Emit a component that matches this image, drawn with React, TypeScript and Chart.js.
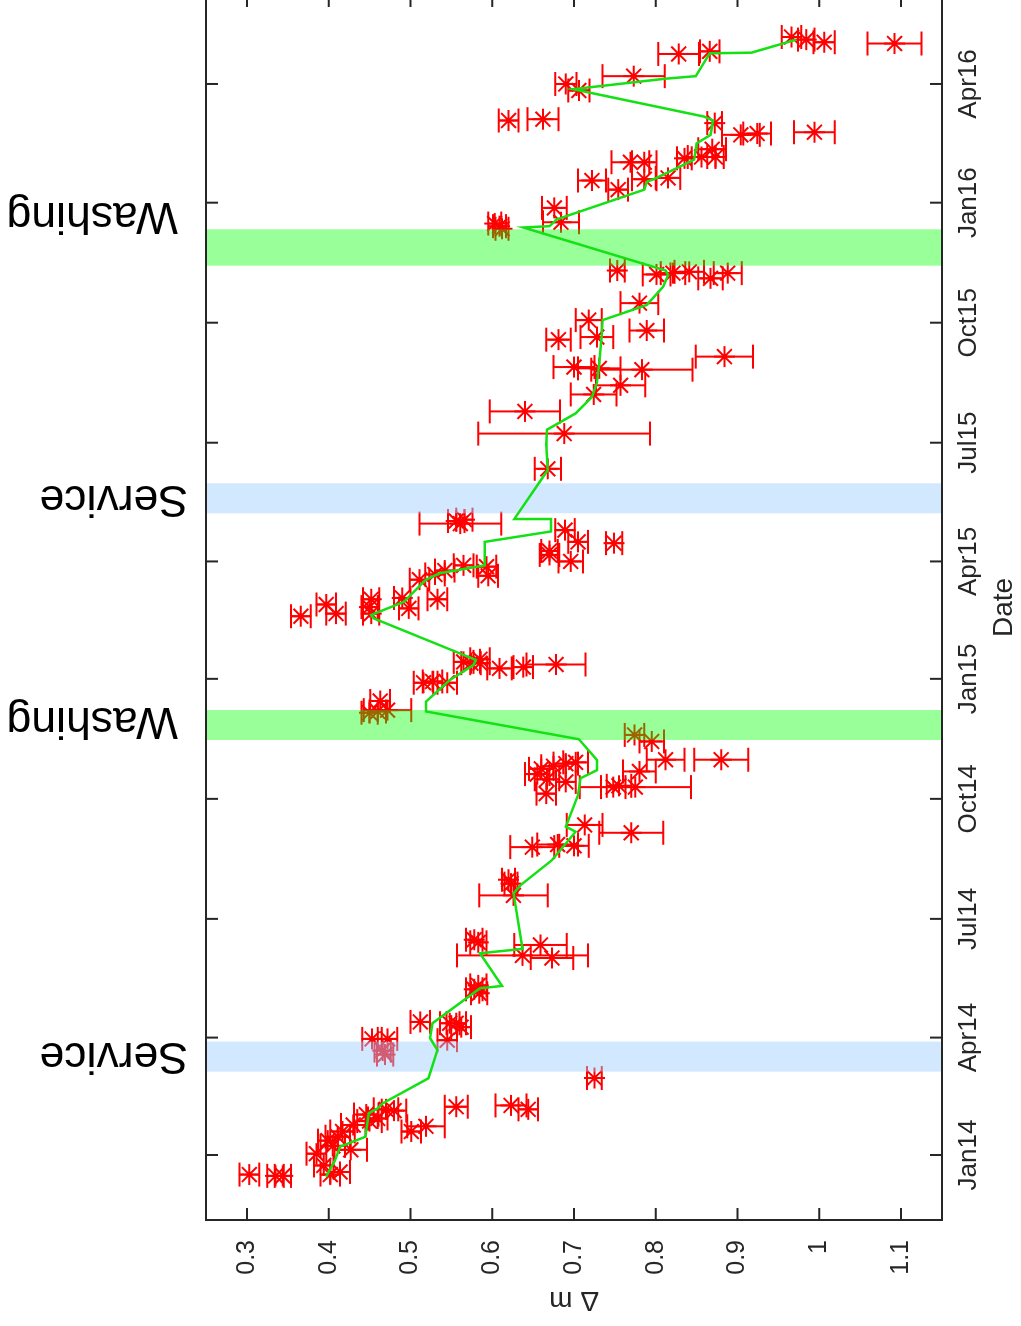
import React, { useEffect, useRef } from "react";
import { Chart, registerables } from "chart.js";

Chart.register(...registerables);

// ---------------- data ----------------
// days counted from 1 Jan 2014
const dateTickDays = [0, 90, 181, 273, 365, 455, 546, 638, 730, 821];
const dateTickLabels = ["Jan14", "Apr14", "Jul14", "Oct14", "Jan15", "Apr15", "Jul15", "Oct15", "Jan16", "Apr16"];
const dmTickValues = [0.3, 0.4, 0.5, 0.6, 0.7, 0.8, 0.9, 1.0, 1.1];

const measDays = [
  -15, -16, -16, -15, -13, -8, 1, 4, 11, 14, 18, 18, 22, 28, 31, 34, 37, 38, 35, 7, 23, 26, 35,
  59, 77, 80, 89, 89, 88, 101, 102, 101, 98, 124,
  130, 127, 163, 165, 161, 153, 151, 199, 208, 211,
  236, 238, 237, 247, 253, 277, 282, 282, 283, 286, 288, 292, 294,
  296, 298, 300, 301, 303, 303, 317, 322, 341, 340, 339, 348, 362, 363, 362, 373, 374, 376, 377, 377,
  380, 378, 413, 415, 422, 426, 420, 415, 427, 419, 426, 441, 445, 448, 452, 451, 444, 455, 460,
  463, 469, 470, 479, 484, 486, 487, 526,
  553, 570, 583, 590, 602, 603, 604, 612, 625, 627, 632,
  640, 653, 672, 675, 676, 677, 676, 678, 714, 712, 710,
  715, 726, 740, 747, 748, 749, 761, 761, 764, 765, 765, 771, 782, 783, 784, 791, 793, 794,
  816, 821, 827, 844, 846, 857, 855, 853, 852,
];

const measDm = [
  0.303, 0.335, 0.344, 0.402, 0.414, 0.394, 0.385, 0.427, 0.399, 0.411, 0.417, 0.501, 0.519, 0.46, 0.446, 0.48, 0.556, 0.623, 0.644, 0.405, 0.43, 0.45, 0.47,
  0.725, 0.469, 0.466, 0.453, 0.472, 0.545, 0.548, 0.512, 0.556, 0.562, 0.584,
  0.583, 0.578, 0.583, 0.578, 0.659, 0.637, 0.673, 0.626, 0.623, 0.62,
  0.649, 0.68, 0.7, 0.77, 0.713, 0.666, 0.748, 0.775, 0.755, 0.69, 0.667, 0.655, 0.78,
  0.66, 0.675, 0.69, 0.702, 0.812, 0.88, 0.795, 0.774, 0.472, 0.46, 0.45, 0.463, 0.516, 0.527, 0.545, 0.609, 0.638, 0.678, 0.574, 0.585,
  0.585, 0.565, 0.366, 0.409, 0.397, 0.452, 0.45, 0.452, 0.49, 0.498, 0.533, 0.511, 0.53, 0.542, 0.565, 0.593, 0.595, 0.696, 0.67,
  0.67, 0.749, 0.705, 0.689, 0.561, 0.556, 0.566, 0.668,
  0.688, 0.64, 0.724, 0.757, 0.783, 0.731, 0.7, 0.884, 0.681, 0.728, 0.789,
  0.718, 0.78, 0.867, 0.801, 0.821, 0.841, 0.888, 0.753, 0.603, 0.609, 0.612,
  0.684, 0.676, 0.754, 0.722, 0.786, 0.815, 0.769, 0.786, 0.835, 0.856, 0.873, 0.869, 0.904, 0.924, 0.994, 0.872, 0.62, 0.662,
  0.706, 0.69, 0.773, 0.828, 0.866, 0.966, 0.984, 1.006, 1.092,
];

const measErr = [
  0.012, 0.01, 0.01, 0.012, 0.012, 0.012, 0.012, 0.02, 0.012, 0.015, 0.015, 0.012, 0.023, 0.012, 0.015, 0.015, 0.014, 0.019, 0.012, 0.015, 0.015, 0.015, 0.015,
  0.009, 0.01, 0.01, 0.012, 0.012, 0.012, 0.012, 0.012, 0.012, 0.012, 0.01,
  0.01, 0.01, 0.01, 0.01, 0.032, 0.08, 0.026, 0.042, 0.008, 0.008,
  0.027, 0.025, 0.018, 0.039, 0.022, 0.012, 0.015, 0.068, 0.015, 0.012, 0.015, 0.015, 0.02,
  0.015, 0.015, 0.015, 0.015, 0.023, 0.033, 0.015, 0.012, 0.029, 0.01, 0.01, 0.012, 0.012, 0.012, 0.012, 0.015, 0.012, 0.036, 0.012, 0.012,
  0.012, 0.012, 0.012, 0.012, 0.012, 0.01, 0.01, 0.01, 0.01, 0.012, 0.012, 0.012, 0.012, 0.012, 0.012, 0.012, 0.012, 0.015, 0.012,
  0.01, 0.01, 0.012, 0.012, 0.05, 0.01, 0.01, 0.016,
  0.105, 0.043, 0.028, 0.03, 0.062, 0.026, 0.025, 0.035, 0.015, 0.02, 0.021,
  0.016, 0.023, 0.015, 0.017, 0.015, 0.018, 0.017, 0.009, 0.008, 0.008, 0.008,
  0.022, 0.015, 0.012, 0.017, 0.015, 0.015, 0.023, 0.015, 0.009, 0.017, 0.01, 0.017, 0.023, 0.017, 0.025, 0.009, 0.012, 0.019,
  0.013, 0.013, 0.038, 0.025, 0.012, 0.012, 0.01, 0.013, 0.033,
];

const trendDays = [
  -16.6, -3.8, 6.4, 14, 32, 35.8, 39.6, 58.8, 80.5, 89.5, 101, 122.7, 127.8, 129.6, 154.6, 158, 200.6, 207, 226,
  247.8, 251.7, 276, 288.8, 295, 302.8, 318.7, 340, 347.5, 364, 375.6, 379.5, 411.4, 414, 424, 441, 446, 452,
  470, 478, 486.8, 487.5, 518.7, 525, 544.6, 556, 568.5, 581, 591.5, 607, 628.7, 640, 651.6, 665.6, 674.6, 678,
  711, 712, 715.4, 717, 740, 746, 749, 763, 775.5, 782, 793, 796, 817, 825, 827, 844.5, 845, 855,
];
const trendDm = [
  0.397, 0.408, 0.414, 0.445, 0.449, 0.46, 0.466, 0.522, 0.533, 0.524, 0.527, 0.574, 0.585, 0.612, 0.585, 0.637, 0.626, 0.635, 0.673,
  0.702, 0.69, 0.705, 0.708, 0.728, 0.728, 0.706, 0.519, 0.519, 0.548, 0.577, 0.58, 0.455, 0.452, 0.492, 0.519, 0.536, 0.591,
  0.591, 0.672, 0.672, 0.627, 0.661, 0.668, 0.666, 0.667, 0.702, 0.722, 0.728, 0.731, 0.734, 0.735, 0.789, 0.809, 0.815, 0.812,
  0.638, 0.67, 0.676, 0.678, 0.786, 0.789, 0.801, 0.847, 0.85, 0.867, 0.87, 0.859, 0.699, 0.811, 0.849, 0.866, 0.917, 0.972,
];

const eventLabels = ["Service", "Washing", "Service", "Washing"];
const eventStart = [63.9, 318.1, 491.9, 681.7];
const eventEnd = [86.9, 341.1, 514.9, 709.6];
const eventTextDay = [76.7, 333.5, 503.6, 720.6];

// ---------------- layout / style ----------------
const FONT = "'Liberation Sans', Arial, Helvetica, sans-serif";
const PAGE_W = 1021;
const PAGE_H = 1326;
const CANVAS_W = 1350;
const CANVAS_H = 1021;
const AREA_LEFT = 106;
const AREA_TOP = 206;
const AREA_RIGHT = 1331;
const AREA_BOTTOM = 942;
const AXIS_COLOR = "#262626";
const RED = "#ff0000";
const GREEN_LINE = "rgb(20, 225, 20)";
const SERVICE_FILL = "rgba(153, 204, 255, 0.45)";
const WASHING_FILL = "rgba(0, 255, 0, 0.4)";
const CAP = 12;
const TICK_LEN = 12;

const decorPlugin = {
  id: "decor",
  beforeDatasetDraw(chart: any, args: any) {
    if (args.index !== 0) return;
    const { ctx, chartArea } = chart;
    const xs = chart.scales.x;
    const ys = chart.scales.y;
    ctx.save();
    ctx.beginPath();
    ctx.rect(chartArea.left, chartArea.top, chartArea.right - chartArea.left, chartArea.bottom - chartArea.top);
    ctx.clip();
    ctx.strokeStyle = RED;
    ctx.lineWidth = 2;
    ctx.beginPath();
    for (let i = 0; i < measDays.length; i++) {
      const px = xs.getPixelForValue(measDays[i]);
      const y1 = ys.getPixelForValue(measDm[i] - measErr[i]);
      const y2 = ys.getPixelForValue(measDm[i] + measErr[i]);
      ctx.moveTo(px, y1);
      ctx.lineTo(px, y2);
      ctx.moveTo(px - CAP, y1);
      ctx.lineTo(px + CAP, y1);
      ctx.moveTo(px - CAP, y2);
      ctx.lineTo(px + CAP, y2);
    }
    ctx.stroke();
    ctx.restore();
  },
  afterDatasetDraw(chart: any, args: any) {
    if (args.index !== 0) return;
    const { ctx, chartArea } = chart;
    const xs = chart.scales.x;
    ctx.save();
    for (let i = 0; i < eventLabels.length; i++) {
      const x1 = xs.getPixelForValue(eventStart[i]);
      const x2 = xs.getPixelForValue(eventEnd[i]);
      ctx.fillStyle = eventLabels[i] === "Washing" ? WASHING_FILL : SERVICE_FILL;
      ctx.fillRect(x1, chartArea.top, x2 - x1, chartArea.bottom - chartArea.top);
    }
    ctx.restore();
  },
  afterDraw(chart: any) {
    const { ctx, chartArea } = chart;
    const xs = chart.scales.x;
    const ys = chart.scales.y;
    const { left, right, top, bottom } = chartArea;
    ctx.save();
    ctx.strokeStyle = AXIS_COLOR;
    ctx.lineWidth = 2;
    ctx.strokeRect(left, top, right - left, bottom - top);
    ctx.beginPath();
    for (const v of dateTickDays) {
      const px = xs.getPixelForValue(v);
      ctx.moveTo(px, bottom);
      ctx.lineTo(px, bottom - TICK_LEN);
      ctx.moveTo(px, top);
      ctx.lineTo(px, top + TICK_LEN);
    }
    for (const v of dmTickValues) {
      const py = ys.getPixelForValue(v);
      ctx.moveTo(left, py);
      ctx.lineTo(left + TICK_LEN, py);
      ctx.moveTo(right, py);
      ctx.lineTo(right - TICK_LEN, py);
    }
    ctx.stroke();

    ctx.fillStyle = "#000";
    ctx.font = `44.5px ${FONT}`;
    ctx.textAlign = "left";
    ctx.textBaseline = "middle";
    for (let i = 0; i < eventLabels.length; i++) {
      const px = xs.getPixelForValue(eventTextDay[i]);
      const gap = eventLabels[i] === "Washing" ? 28 : 18;
      ctx.save();
      ctx.translate(px, top - gap);
      ctx.rotate(-Math.PI / 2);
      ctx.fillText(eventLabels[i], 0, 0);
      ctx.restore();
    }
    ctx.restore();
  },
};

export default function App() {
  const ref = useRef<HTMLCanvasElement | null>(null);

  useEffect(() => {
    const canvas = ref.current;
    if (!canvas) return;
    const measPoints = measDays.map((d, i) => ({ x: d, y: measDm[i] }));
    const trendPoints = trendDays.map((d, i) => ({ x: d, y: trendDm[i] }));
    const chart = new Chart(canvas, {
      type: "scatter",
      data: {
        datasets: [
          {
            data: measPoints,
            pointStyle: "star",
            pointRadius: 10.5,
            pointBorderWidth: 2,
            pointBorderColor: RED,
            pointBackgroundColor: RED,
            showLine: false,
            order: 2,
          } as any,
          {
            data: trendPoints,
            showLine: true,
            borderColor: GREEN_LINE,
            borderWidth: 2.5,
            pointRadius: 0,
            fill: false,
            tension: 0,
            order: 1,
          } as any,
        ],
      },
      options: {
        animation: false,
        responsive: false,
        devicePixelRatio: 1,
        layout: { padding: { left: 0, top: AREA_TOP, right: CANVAS_W - AREA_RIGHT, bottom: 0 } },
        plugins: { legend: { display: false }, tooltip: { enabled: false } },
        scales: {
          x: {
            type: "linear",
            position: "bottom",
            min: -49.83,
            max: 889.2,
            afterBuildTicks: (s: any) => {
              s.ticks = dateTickDays.map((v) => ({ value: v }));
            },
            afterFit: (s: any) => {
              s.height = CANVAS_H - AREA_BOTTOM;
            },
            grid: { display: false, drawTicks: false },
            border: { display: false },
            ticks: {
              autoSkip: false,
              maxRotation: 0,
              minRotation: 0,
              padding: 11,
              color: AXIS_COLOR,
              font: { family: FONT, size: 26 },
              callback: (v: any) => {
                const i = dateTickDays.indexOf(Number(v));
                return i >= 0 ? dateTickLabels[i] : "";
              },
            },
            title: {
              display: true,
              text: "Date",
              color: AXIS_COLOR,
              font: { family: FONT, size: 28 },
              padding: { top: 0, bottom: 0 },
            },
          },
          y: {
            type: "linear",
            position: "left",
            reverse: true,
            min: 0.25,
            max: 1.15,
            afterBuildTicks: (s: any) => {
              s.ticks = dmTickValues.map((v) => ({ value: v }));
            },
            afterFit: (s: any) => {
              s.width = AREA_LEFT;
            },
            grid: { display: false, drawTicks: false },
            border: { display: false },
            ticks: {
              autoSkip: false,
              padding: 20,
              color: AXIS_COLOR,
              font: { family: FONT, size: 25 },
              callback: (v: any) => String(Number(Number(v).toFixed(2))),
            },
            title: {
              display: true,
              text: "Δ m",
              color: AXIS_COLOR,
              font: { family: FONT, size: 28 },
              padding: { top: 9, bottom: 0 },
            },
          },
        },
      } as any,
      plugins: [decorPlugin],
    });

    // pin the plotting area to the intended rectangle
    const ca = chart.chartArea;
    const dr = AREA_RIGHT - ca.right;
    const dt = AREA_TOP - ca.top;
    if (Math.abs(dr) > 0.5 || Math.abs(dt) > 0.5) {
      (chart.config.options as any).layout = {
        padding: { left: 0, top: AREA_TOP + dt, right: CANVAS_W - AREA_RIGHT - dr, bottom: 0 },
      };
      chart.update();
    }
    return () => chart.destroy();
  }, []);

  return (
    <div
      style={{
        position: "absolute",
        left: 0,
        top: 0,
        width: PAGE_W,
        height: PAGE_H,
        overflow: "hidden",
        background: "#fff",
      }}
    >
      <div
        style={{
          position: "absolute",
          left: 0,
          top: 0,
          width: CANVAS_W,
          height: CANVAS_H,
          transformOrigin: "0 0",
          transform: `translate(0px, ${PAGE_H}px) rotate(-90deg)`,
        }}
      >
        <canvas
          ref={ref}
          width={CANVAS_W}
          height={CANVAS_H}
          style={{ display: "block", width: CANVAS_W, height: CANVAS_H }}
        />
      </div>
    </div>
  );
}
